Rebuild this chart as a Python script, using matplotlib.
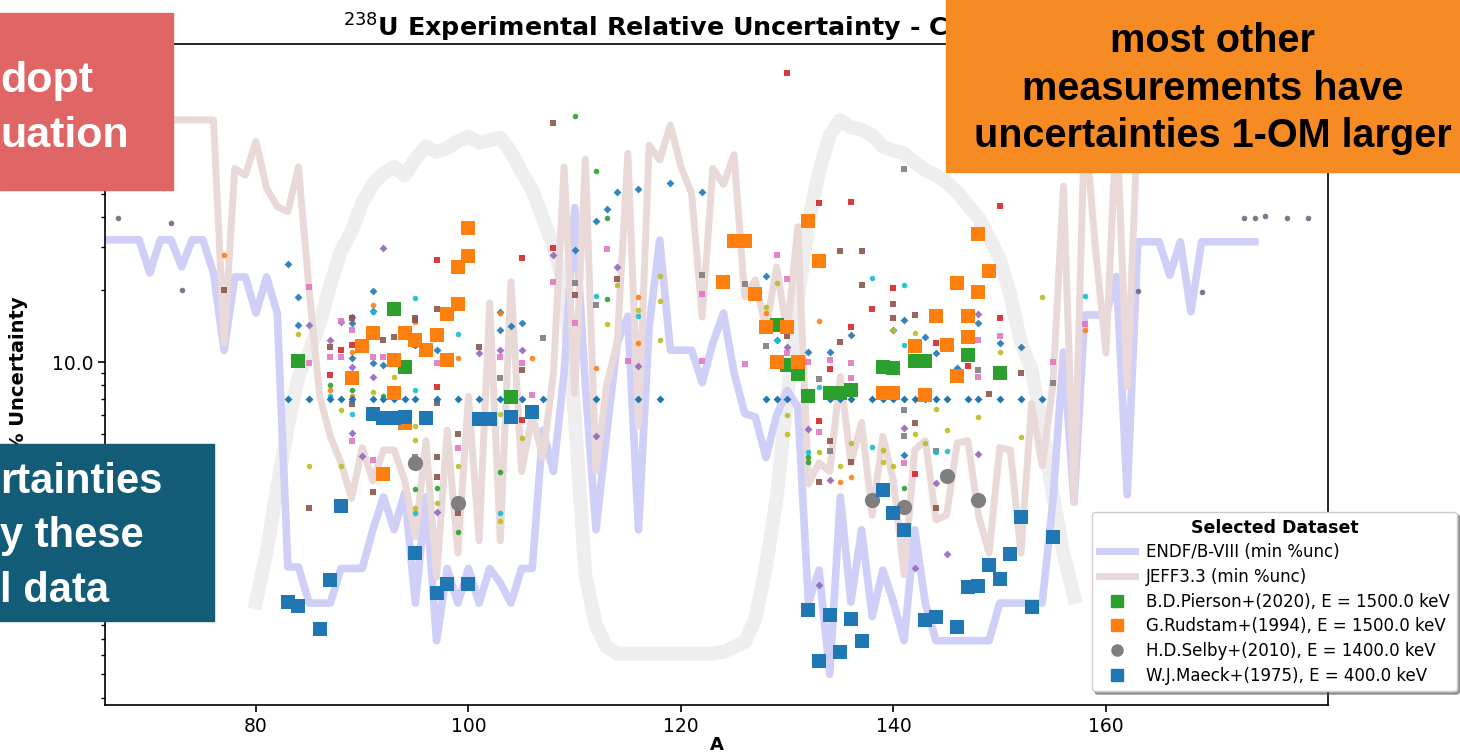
import matplotlib
matplotlib.use("Agg")
import matplotlib.pyplot as plt
from matplotlib.patches import Rectangle
from matplotlib.lines import Line2D
from matplotlib.ticker import FormatStrFormatter, NullFormatter, FixedLocator

# ---------------- data ----------------
# evaluated minimum % uncertainty per mass number
endf_A = list(range(66, 175))
endf_unc = [32.3, 32.3, 32.3, 32.3, 23.5, 32.3, 32.3, 24.9, 32.3, 32.3,    # 66-75
            23.5, 11.2, 22.6, 22.6, 16.0, 22.6, 16.0, 1.40, 1.40, 0.99,    # 76-85
            0.99, 0.99, 1.38, 1.38, 1.38, 2.0, 2.74, 2.0, 2.85, 0.99,      # 86-95
            2.74, 0.69, 1.38, 0.99, 1.38, 0.99, 1.38, 1.2, 0.99, 1.38,     # 96-105
            1.38, 5.2, 3.5, 9.0, 44.0, 8.0, 2.0, 5.0, 12.0, 15.5,          # 106-115
            2.0, 14.0, 32.2, 11.2, 11.2, 11.2, 8.2, 12.0, 16.0, 9.0,       # 116-125
            6.1, 5.9, 4.0, 6.0, 7.6, 6.5, 0.99, 1.36, 0.50, 2.74,          # 126-135
            1.0, 2.0, 0.87, 1.36, 1.0, 0.69, 2.0, 0.99, 0.69, 0.69,        # 136-145
            0.69, 0.69, 0.69, 0.69, 0.99, 0.99, 0.99, 0.99, 0.99, 2.6,     # 146-155
            11.0, 2.6, 15.7, 15.7, 15.7, 22.7, 2.8, 31.7, 31.7, 31.7,      # 156-165
            23.0, 31.7, 16.2, 31.7, 31.7, 31.7, 31.7, 31.7, 31.7]          # 166-174

jeff_A = list(range(66, 164))
jeff_unc = [102, 102, 102, 102, 102, 102, 102, 102, 102, 102,              # 66-75
            102, 12.0, 64.0, 60.0, 83.0, 53.0, 44.4, 42.3, 65.0, 20.0,     # 76-85
            7.2, 4.9, 3.8, 2.7, 4.4, 3.2, 4.3, 4.3, 3.2, 1.87,             # 86-95
            4.7, 1.27, 5.2, 1.6, 7.2, 1.8, 17.6, 1.8, 21.6, 3.5,           # 96-105
            6.0, 4.0, 9.0, 65.0, 7.4, 70.0, 3.5, 8.0, 12.0, 74.0,          # 106-115
            5.4, 80.0, 69.5, 97.0, 65.0, 50.5, 15.4, 64.0, 55.0, 73.0,     # 116-125
            18.7, 22.0, 13.6, 24.9, 13.2, 36.6, 3.1, 3.8, 3.5, 8.7,        # 126-135
            3.8, 5.6, 2.3, 4.9, 3.2, 1.3, 4.3, 4.7, 2.2, 2.3,              # 136-145
            4.6, 4.7, 2.3, 1.6, 4.4, 4.3, 1.6, 6.7, 3.7, 8.0,              # 146-155
            54.0, 2.6, 102, 30.0, 10.9, 102, 7.9, 102]                     # 156-163

# light grey background curve (yield shape, drawn on the same scale)
yield_A = list(range(80, 158))
yield_val = [1.0, 1.6, 3.0, 5.4, 8.7, 11.0, 14.5, 21.0, 29.0, 35.0,        # 80-89
             46.0, 55.0, 61.0, 65.0, 60.0, 70.0, 79.0, 75.0, 78.0, 83.0,   # 90-99
             87.0, 82.0, 84.0, 86.0, 75.0, 62.0, 52.0, 40.0, 30.0, 21.0,   # 100-109
             6.0, 1.3, 0.8, 0.65, 0.61, 0.61, 0.61, 0.61, 0.61, 0.61,      # 110-119
             0.61, 0.61, 0.61, 0.61, 0.62, 0.65, 0.68, 0.85, 1.4, 2.7,     # 120-129
             7.2, 18.0, 38.0, 62.0, 88.0, 102, 95.0, 93.0, 88.0, 79.0,     # 130-139
             76.0, 74.0, 68.0, 63.0, 60.0, 56.0, 51.0, 45.0, 40.0, 33.0,   # 140-149
             27.0, 19.0, 12.0, 9.3, 5.3, 2.8, 1.6, 1.05]                   # 150-157

# selected datasets
pierson_A = [84, 93, 94, 104, 129, 130, 131, 132, 134, 135, 136, 139, 140, 142, 143, 147, 150]
pierson_unc = [10.1, 16.6, 9.56, 7.17, 14.3, 9.7, 8.9, 7.2, 7.45, 7.45, 7.64, 9.56, 9.4, 10.1, 10.1, 10.7, 8.97]

rudstam_A = [89, 90, 91, 92, 93, 93, 94, 94, 95, 96, 97, 98, 98, 99, 99, 100, 100,
             124, 125, 126, 127, 128, 129, 130, 131, 132, 133, 139, 140, 142, 143,
             144, 145, 146, 146, 147, 147, 148, 148, 149]
rudstam_unc = [8.55, 11.7, 13.2, 3.43, 10.2, 7.4, 13.2, 5.55, 12.4, 11.2, 12.9, 10.2, 15.9, 17.5, 24.9, 27.7, 36.0,
               21.6, 31.9, 31.9, 19.2, 14.0, 10.0, 14.0, 10.0, 38.7, 26.3, 7.45, 7.45, 11.7, 7.3,
               15.6, 11.8, 21.3, 8.75, 15.6, 12.7, 34.2, 19.5, 24.0]

selby_A = [95, 99, 138, 141, 145, 148]
selby_unc = [3.79, 2.58, 2.66, 2.48, 3.36, 2.66]

maeck_A = [83, 84, 86, 87, 88, 91, 92, 93, 94, 95, 96, 97, 98, 100, 101, 102, 104, 106,
           132, 133, 134, 135, 136, 137, 139, 140, 141, 143, 144, 146, 147, 148, 149, 150,
           151, 152, 153, 155]
maeck_unc = [1.0, 0.96, 0.77, 1.23, 2.52, 6.05, 5.83, 5.83, 5.88, 1.60, 5.83, 1.09, 1.19, 1.19, 5.8, 5.8, 5.9, 6.2,
             0.93, 0.57, 0.88, 0.62, 0.85, 0.69, 2.93, 2.34, 2.0, 0.84, 0.87, 0.79, 1.16, 1.17, 1.43, 1.25,
             1.59, 2.25, 0.95, 1.87]

# all other measurements (small markers), grouped by colour
row7_A = [83, 85, 87, 88, 89, 91, 92, 93, 94, 95, 97, 99, 101, 103, 105, 107, 112, 116, 118, 128,
          129, 130, 132, 134, 135, 136, 138, 139, 140, 141, 142, 143, 144, 145, 147, 148, 150, 152, 154]
row7_unc = [7.0, 7.0, 7.0, 7.0, 7.0, 7.0, 7.0, 7.0, 7.0, 7.0, 7.0, 7.0, 7.0, 7.0, 7.0, 7.0, 7.0, 7.0, 7.0, 7.0,
            7.0, 7.0, 7.0, 7.0, 7.0, 7.0, 7.0, 7.0, 7.0, 7.0, 7.0, 7.0, 7.0, 7.0, 7.0, 7.0, 7.0, 7.0, 7.0]

other_blue = [(83, 25.6), (84, 18.6), (84, 14.2), (89, 14.5), (89, 10.4), (91, 19.8), (91, 16.3), (91, 9.9),
              (92, 9.7), (95, 11.8), (97, 11.2), (103, 16.2), (103, 13.6), (104, 14.1), (105, 14.6),
              (110, 29.3), (112, 38.8), (113, 43.2), (114, 50.9), (116, 52.4), (119, 55.5), (122, 50.9),
              (128, 22.9), (129, 12.4), (132, 11.0), (134, 11.0), (136, 13.0), (140, 13.6), (141, 14.9),
              (143, 12.7), (144, 10.9), (146, 9.4), (148, 14.5), (150, 12.0), (152, 11.5), (141, 4.1)]
other_orange = [(77, 27.9), (91, 17.3), (87, 7.65), (89, 11.0), (89, 7.2), (95, 14.7), (99, 10.4), (103, 16.0),
                (106, 10.4), (112, 9.4), (116, 18.7), (116, 12.0), (128, 16.0), (133, 14.8), (135, 3.17),
                (136, 3.33), (158, 13.6)]
other_green = [(110, 106.0), (112, 62.5), (113, 39.7), (113, 18.3), (87, 8.0), (89, 7.64), (92, 7.2), (95, 2.96),
               (97, 2.98), (99, 2.5), (99, 1.96), (103, 3.49), (132, 3.84), (141, 2.98), (132, 4.03)]
other_red = [(87, 8.8), (88, 11.2), (89, 11.8), (97, 26.6), (97, 7.84), (105, 27.0), (105, 5.73), (108, 29.8),
             (130, 160.0), (133, 45.8), (136, 46.3), (140, 20.3), (138, 16.6), (150, 44.8), (134, 9.35),
             (136, 14.0), (133, 5.7), (144, 12.0), (147, 9.6), (142, 3.43), (150, 15.2)]
other_purple = [(85, 14.3), (87, 12.3), (88, 14.7), (89, 15.4), (89, 9.56), (89, 5.07), (91, 8.7), (90, 4.07),
                (97, 2.38), (101, 10.9), (103, 11.2), (105, 11.2), (108, 27.9), (114, 24.9), (116, 9.6),
                (112, 4.9), (130, 11.6), (132, 5.25), (134, 3.22), (141, 5.33), (144, 3.12), (148, 15.9),
                (148, 4.15), (145, 1.59), (142, 1.38), (133, 1.18), (92, 29.8)]
other_brown = [(77, 20.0), (87, 11.5), (89, 15.3), (89, 6.66), (85, 2.47), (91, 2.88), (92, 12.3), (93, 12.7),
               (95, 15.3), (95, 14.9), (97, 16.6), (97, 6.74), (97, 4.03), (97, 3.33), (99, 5.0), (99, 2.34),
               (101, 11.6), (105, 9.26), (108, 98.6), (110, 19.1), (114, 22.1), (135, 29.0), (137, 29.0),
               (137, 20.9), (140, 17.5), (140, 15.3), (142, 15.7), (130, 12.8), (135, 12.1), (134, 4.7),
               (136, 3.84), (133, 3.15), (142, 5.55), (144, 2.47), (149, 7.34), (152, 9.0)]
other_pink = [(85, 20.6), (85, 9.9), (87, 10.5), (88, 14.8), (88, 10.5), (89, 13.6), (89, 4.69), (91, 10.5),
              (91, 3.9), (92, 10.5), (97, 9.9), (99, 4.37), (103, 10.5), (105, 9.9), (106, 7.3), (108, 21.6),
              (110, 14.6), (113, 29.5), (115, 10.1), (122, 10.1), (122, 19.2), (126, 9.8), (129, 27.9),
              (130, 22.2), (130, 10.9), (132, 10.0), (133, 5.1), (134, 10.2), (136, 9.9), (136, 8.55),
              (141, 3.8), (143, 10.2), (148, 12.3), (148, 8.7), (150, 12.8), (155, 10.0), (158, 14.4)]
other_gray = [(107, 12.6), (110, 21.3), (112, 17.2), (122, 23.0), (126, 21.2), (141, 63.6), (128, 11.7),
              (133, 8.5), (134, 4.27), (141, 6.3), (141, 4.9), (144, 4.25), (148, 9.26), (155, 8.2),
              (103, 8.55), (95, 4.03), (95, 11.8)]
other_olive = [(84, 13.1), (85, 3.7), (88, 6.3), (88, 3.7), (91, 7.5), (93, 8.7), (95, 5.4), (95, 4.73),
               (95, 2.47), (97, 2.58), (99, 3.7), (103, 6.1), (103, 2.17), (105, 4.84), (113, 14.4),
               (114, 20.9), (116, 16.5), (118, 22.8), (118, 18.0), (118, 12.4), (128, 17.0), (129, 21.3),
               (130, 6.0), (130, 5.0), (133, 4.2), (135, 3.7), (136, 4.6), (139, 4.3), (139, 3.84),
               (140, 3.7), (140, 13.6), (142, 13.2), (142, 5.0), (143, 4.6), (144, 6.4), (145, 5.2),
               (148, 5.88), (150, 11.0), (152, 4.86), (154, 18.7)]
other_cyan = [(87, 7.2), (89, 6.05), (91, 16.2), (95, 18.4), (95, 7.64), (95, 2.35), (99, 13.1), (103, 2.36),
              (112, 18.8), (116, 15.5), (129, 12.4), (133, 7.9), (132, 4.23), (138, 22.3), (138, 4.44),
              (141, 21.0), (141, 11.8), (144, 4.2), (145, 4.25), (158, 18.9)]
other_dark = [(67, 39.9), (72, 38.0), (73, 20.0), (163, 19.8), (169, 19.5), (173, 39.9), (174, 39.9),
              (175, 40.5), (177, 39.9), (179, 39.9)]

# ---------------- figure ----------------
W, H = 1460, 755
fig = plt.figure(figsize=(W / 100, H / 100), dpi=100)
ax = fig.add_axes([105 / W, 1 - 705 / H, (1328 - 105) / W, (705 - 44) / H])

ax.plot(yield_A, yield_val, color='#eeeeee', lw=10, solid_joinstyle='round', zorder=1)
ax.plot(endf_A, endf_unc, color='#cfcff8', lw=5.5, zorder=2)
ax.plot(jeff_A, jeff_unc, color='#e9d9d9', lw=5, zorder=2)

groups = [
    (other_blue, '#1f77b4', 'D'), (other_orange, '#ff7f0e', 'o'), (other_green, '#2ca02c', 'o'),
    (other_red, '#d62728', 's'), (other_purple, '#9467bd', 'D'), (other_brown, '#8c564b', 's'),
    (other_pink, '#e377c2', 's'), (other_gray, '#7f7f7f', 's'), (other_olive, '#bcbd22', 'o'),
    (other_cyan, '#17becf', 'o'), (other_dark, '#75667f', 'o'),
]
for pts, c, m in groups:
    ax.scatter([p[0] for p in pts], [p[1] for p in pts], s=16, color=c, marker=m,
               alpha=0.9, linewidths=0, zorder=3)
ax.scatter(row7_A, row7_unc, s=16, color='#1f77b4', marker='D', linewidths=0, zorder=3)

ax.scatter(pierson_A, pierson_unc, s=110, marker='s', color='#2ca02c', linewidths=0, zorder=4)
ax.scatter(rudstam_A, rudstam_unc, s=110, marker='s', color='#ff7f0e', linewidths=0, zorder=4)
ax.scatter(selby_A, selby_unc, s=120, marker='o', color='#7f7f7f', linewidths=0, zorder=4)
ax.scatter(maeck_A, maeck_unc, s=110, marker='s', color='#1f77b4', linewidths=0, zorder=4)

ax.set_yscale('log')
ax.set_xlim(65.79, 180.9)
ax.set_ylim(0.3724, 211.3)
ax.xaxis.set_major_locator(FixedLocator([80, 100, 120, 140, 160]))
ax.yaxis.set_major_formatter(FormatStrFormatter('%.1f'))
ax.yaxis.set_minor_formatter(NullFormatter())
ax.tick_params(which='major', length=5, width=1.2, labelsize=13.5)
ax.tick_params(which='minor', length=3, width=1.0)
for sp in ax.spines.values():
    sp.set_linewidth(1.2)

ax.set_title(r'$^{238}$U Experimental Relative Uncertainty - Cumulative',
             fontsize=18.3, fontweight='bold', pad=4)
ax.set_xlabel('A', fontsize=13, fontweight='bold', labelpad=0)
ax.set_ylabel('% Uncertainty', fontsize=14, fontweight='bold')
ax.yaxis.set_label_coords(-0.063, 0.5)

handles = [
    Line2D([], [], color='#cfcff8', lw=5),
    Line2D([], [], color='#e9d9d9', lw=5),
    Line2D([], [], ls='', marker='s', ms=8, color='#2ca02c'),
    Line2D([], [], ls='', marker='s', ms=8, color='#ff7f0e'),
    Line2D([], [], ls='', marker='o', ms=8, color='#7f7f7f'),
    Line2D([], [], ls='', marker='s', ms=8, color='#1f77b4'),
]
labels = ['ENDF/B-VIII (min %unc)', 'JEFF3.3 (min %unc)',
          'B.D.Pierson+(2020), E = 1500.0 keV', 'G.Rudstam+(1994), E = 1500.0 keV',
          'H.D.Selby+(2010), E = 1400.0 keV', 'W.J.Maeck+(1975), E = 400.0 keV']
leg = ax.legend(handles, labels, loc='upper left', bbox_to_anchor=(1092 / W, 1 - 512 / H),
                bbox_transform=fig.transFigure, fontsize=12, title='Selected Dataset',
                title_fontproperties={'weight': 'bold', 'size': 12.5}, shadow=True,
                framealpha=1, borderaxespad=0, handlelength=2.15, handletextpad=0.7,
                labelspacing=0.4)
leg.set_zorder(6)

# slide overlays
def box(x0, y0, x1, y1, color):
    fig.add_artist(Rectangle((x0 / W, 1 - y1 / H), (x1 - x0) / W, (y1 - y0) / H,
                             transform=fig.transFigure, color=color, zorder=10))

def txt(x, y, s, color, size, ha='left'):
    fig.text(x / W, 1 - y / H, s, color=color, fontsize=size, fontweight='bold',
             family='Liberation Sans', ha=ha, va='baseline', zorder=11)

box(0, 13, 173, 190, '#e06666')
txt(0, 92, 'dopt', 'white', 31)
txt(0, 147, 'uation', 'white', 31)

box(0, 444, 214, 621, '#135c78')
txt(0, 493, 'rtainties', 'white', 30)
txt(0, 547, 'y these', 'white', 30)
txt(0, 602, 'l data', 'white', 30)

box(946, 0, 1460, 172, '#f58b22')
txt(1213, 52, 'most other', 'black', 28.5, ha='center')
txt(1213, 100, 'measurements have', 'black', 28.5, ha='center')
txt(1213, 147, 'uncertainties 1-OM larger', 'black', 28.5, ha='center')

fig.savefig('out.png', dpi=100)
